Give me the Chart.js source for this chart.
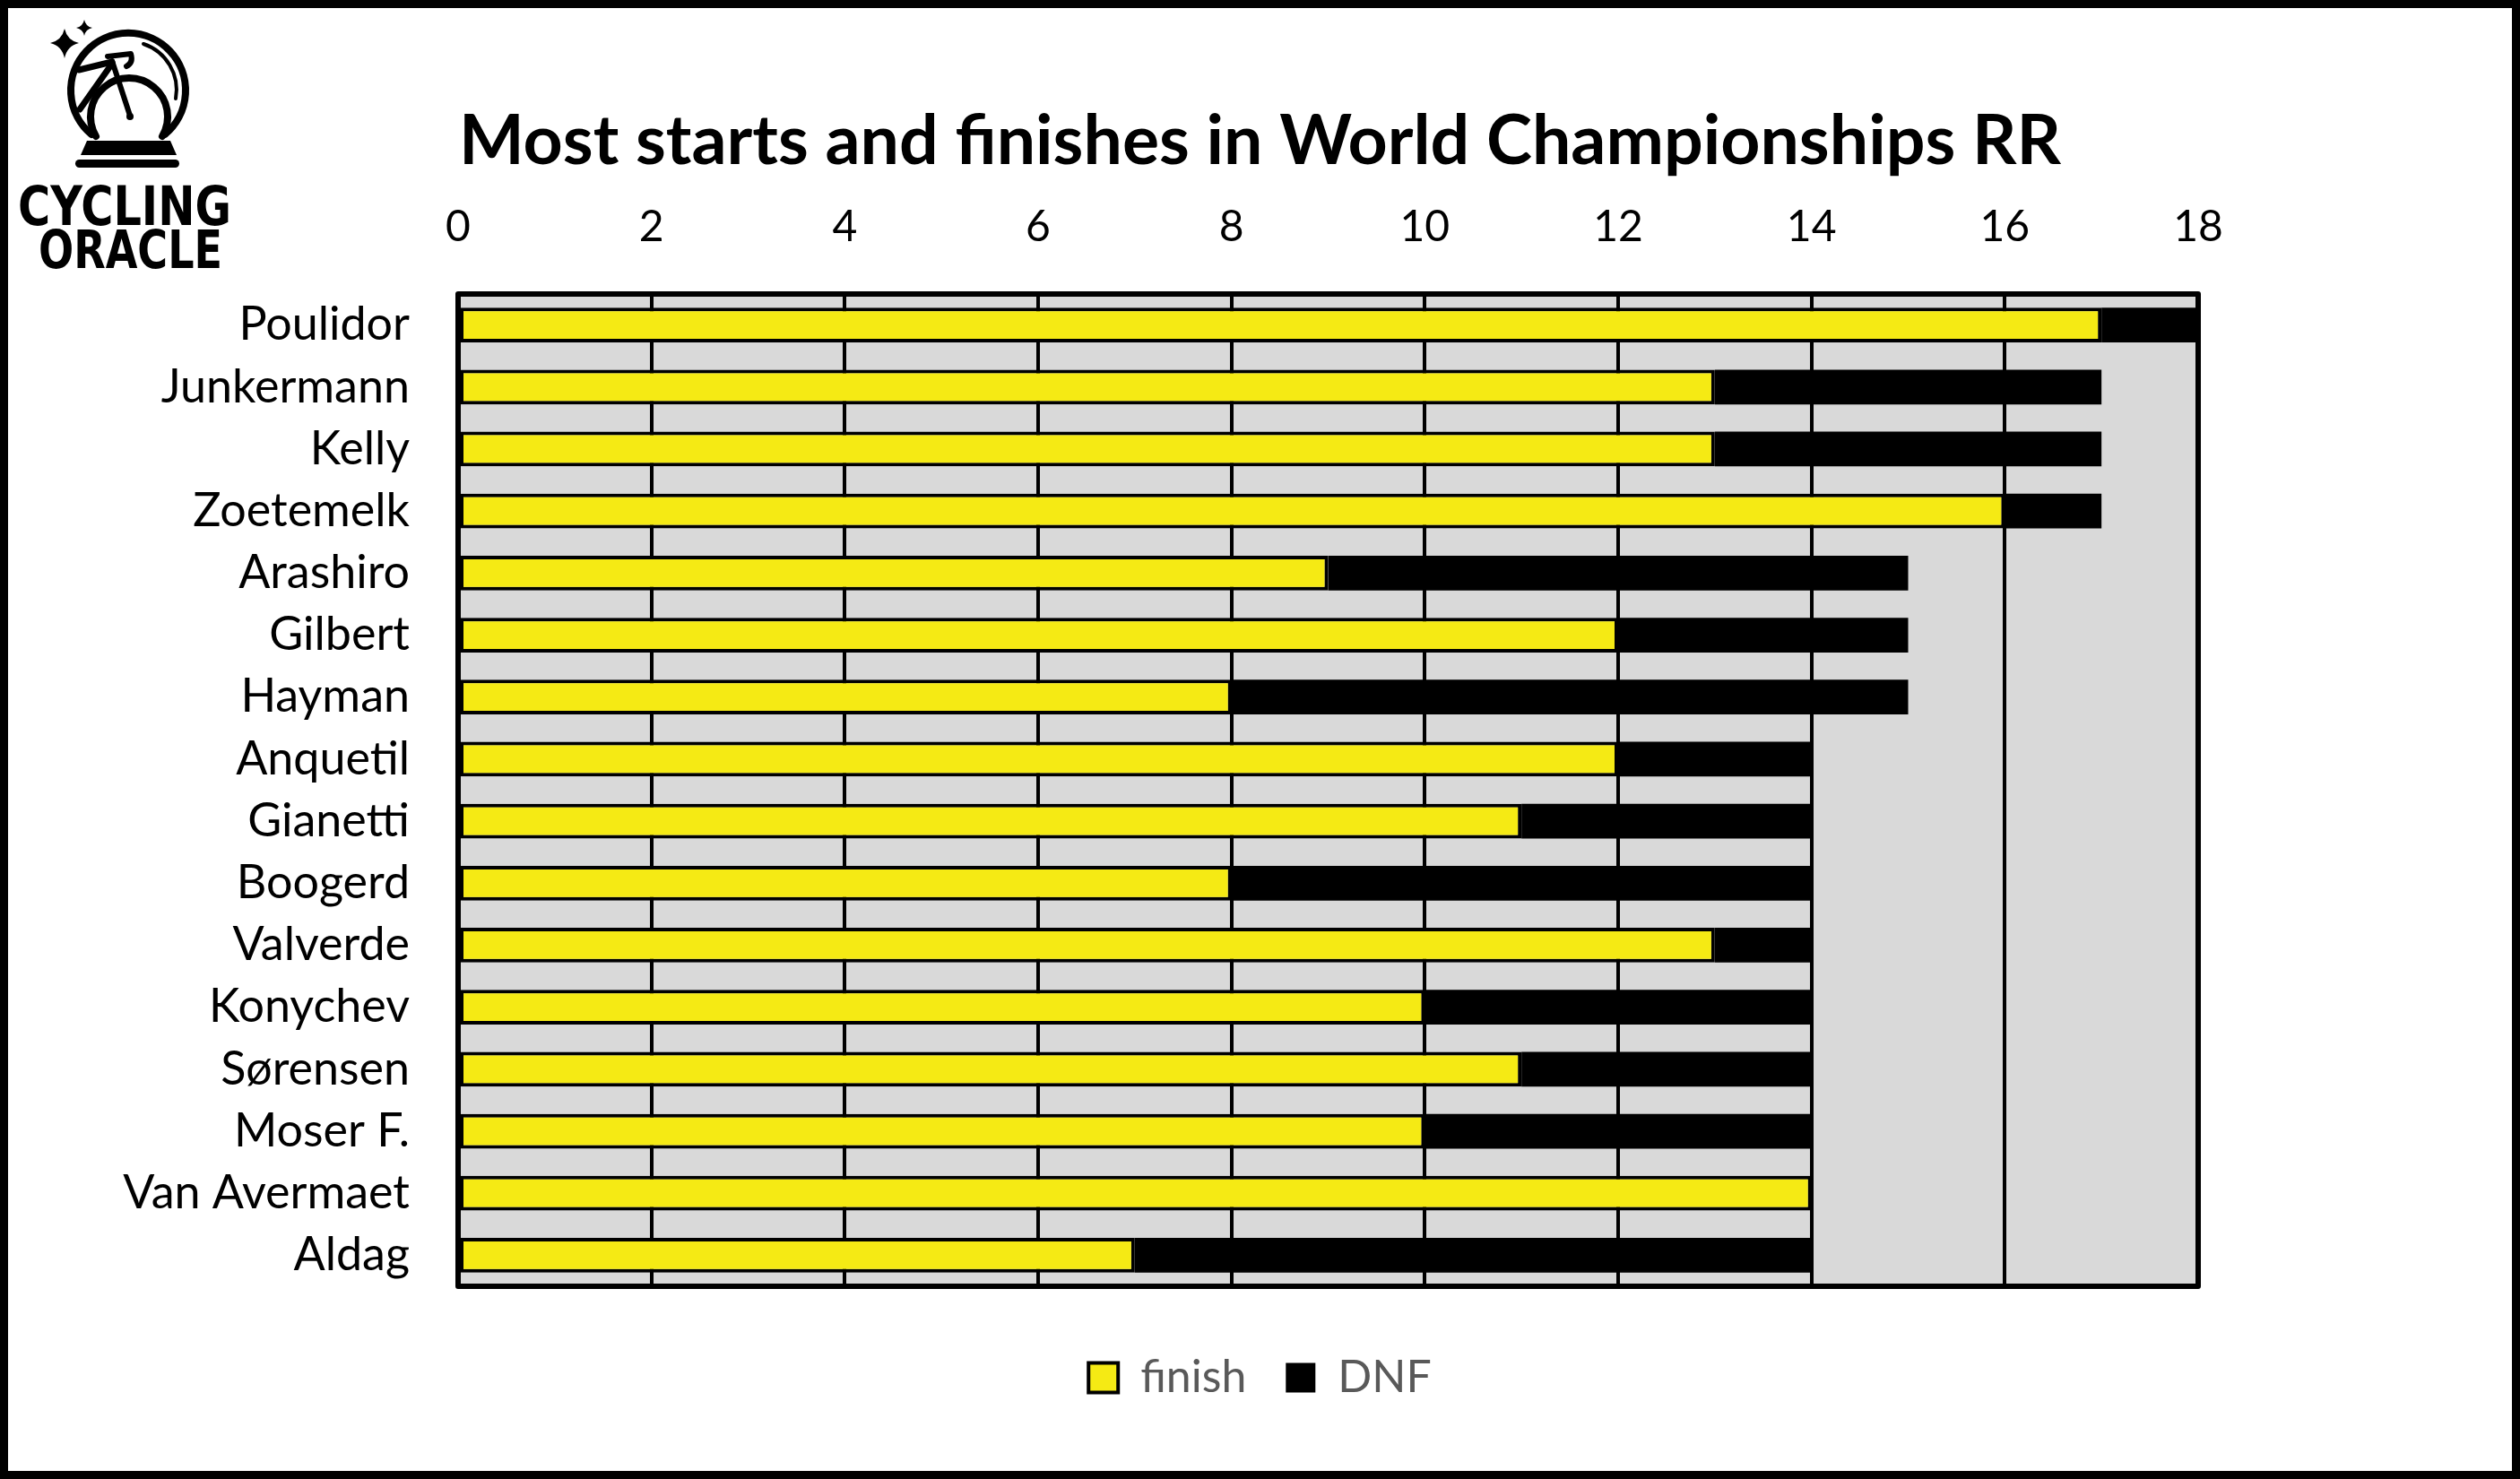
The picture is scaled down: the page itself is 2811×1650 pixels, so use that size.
<!DOCTYPE html>
<html lang="en">
<head>
  <meta charset="UTF-8">
  <title>Most starts and finishes in World Championships RR</title>
  <script src="https://cdn.jsdelivr.net/npm/chart.js"></script>
  <style>
    html, body {
      margin: 0;
      padding: 0;
      background: #fff;
      overflow: hidden;
    }

    #wrap {
      position: relative;
      width: 2811px;
      height: 1650px;
    }

    canvas, #logo {
      position: absolute;
      left: 0;
      top: 0;
    }

    #frame {
      position: absolute;
      left: 0;
      top: 0;
      width: 2811px;
      height: 1650px;
      box-sizing: border-box;
      border: 9px solid #000;
      pointer-events: none;
    }
  </style>
</head>
<body>

  <div id="wrap">
    <canvas id="grafico" width="2811" height="1650"></canvas>

    <svg id="logo" width="300" height="320" viewBox="0 0 300 320">
      <!-- estrellas -->
      <path d="M72 32 Q75 45 88 48 Q75 51 72 65 Q69 51 56 48 Q69 45 72 32 Z" fill="#000"/>
      <path d="M94 22 Q95.5 29.5 103 31 Q95.5 32.5 94 40 Q92.5 32.5 85 31 Q92.5 29.5 94 22 Z" fill="#000"/>
      <g fill="none" stroke="#000" stroke-linecap="round" stroke-linejoin="round">
        <!-- bola de cristal -->
        <path d="M102 150 A64 64 0 1 1 184 150" stroke-width="8"/>
        <path d="M160 49 A54 54 0 0 1 196 110" stroke-width="4"/>
        <!-- rueda -->
        <path d="M107 152 A43 43 0 1 1 181 152" stroke-width="8"/>
        <!-- cuadro -->
        <path d="M88 78 L125 69" stroke-width="7"/>
        <path d="M125 71 L89 122" stroke-width="7"/>
        <path d="M125 68 L145 129" stroke-width="6"/>
        <path d="M120 63 L146 60 Q149 70 141 74" stroke-width="6"/>
      </g>
      <circle cx="145" cy="130" r="4" fill="#000"/>
      <!-- base -->
      <path d="M97 157 L190 157 L197 173 L90 173 Z" fill="#000"/>
      <rect x="84" y="178" width="116" height="9" rx="4.5" fill="#000"/>
      <text x="20" y="251" font-family="DejaVu Sans" font-weight="bold" font-size="60"
            textLength="238" lengthAdjust="spacingAndGlyphs">CYCLING</text>
      <text x="43" y="299" font-family="DejaVu Sans" font-weight="bold" font-size="58"
            textLength="205" lengthAdjust="spacingAndGlyphs">ORACLE</text>
    </svg>

    <div id="frame"></div>
  </div>

  <script>
    const riders = ['Poulidor', 'Junkermann', 'Kelly', 'Zoetemelk', 'Arashiro', 'Gilbert', 'Hayman',
      'Anquetil', 'Gianetti', 'Boogerd', 'Valverde', 'Konychev', 'Sørensen', 'Moser F.',
      'Van Avermaet', 'Aldag'];
    const finishes = [17, 13, 13, 16, 9, 12, 8, 12, 11, 8, 13, 10, 11, 10, 14, 7];
    const dnfs = [1, 4, 4, 1, 6, 3, 7, 2, 3, 6, 1, 4, 3, 4, 0, 7];
    const xTicks = [0, 2, 4, 6, 8, 10, 12, 14, 16, 18];

    const ctx = document.getElementById('grafico').getContext('2d');

    // fondo gris del area y marco negro encima de las barras
    const fondoPlot = {
      id: 'fondoPlot',
      beforeDraw(chart) {
        const { ctx, chartArea: a } = chart;
        ctx.save();
        ctx.fillStyle = '#d9d9d9';
        ctx.fillRect(a.left, a.top, a.right - a.left, a.bottom - a.top);
        ctx.restore();
      },
      afterDatasetsDraw(chart) {
        const { ctx, chartArea: a } = chart;
        ctx.save();
        ctx.strokeStyle = '#000';
        ctx.lineWidth = 6;
        ctx.lineJoin = 'round';
        ctx.strokeRect(a.left, a.top, a.right - a.left, a.bottom - a.top);
        ctx.restore();
      }
    };

    new Chart(ctx, {
      type: 'bar',
      data: {
        labels: riders,
        datasets: [
          {
            label: 'finish',
            data: finishes,
            backgroundColor: '#f5ea14',
            borderColor: '#000',
            borderWidth: 4,
            borderSkipped: false,
            xAxisID: 'x',
            yAxisID: 'y'
          },
          {
            label: 'DNF',
            data: dnfs,
            backgroundColor: '#000',
            borderWidth: 0,
            xAxisID: 'x',
            yAxisID: 'y'
          }
        ]
      },
      options: {
        indexAxis: 'y',
        responsive: false,
        animation: false,
        devicePixelRatio: 1,
        layout: { padding: { top: 0, left: 0, right: 0, bottom: 78 } },
        datasets: { bar: { barPercentage: 0.56, categoryPercentage: 1 } },
        scales: {
          x: {
            type: 'linear',
            position: 'top',
            stacked: true,
            min: 0,
            max: 18,
            afterBuildTicks: s => { s.ticks = xTicks.map(v => ({ value: v })); },
            afterFit: s => { s.height = 123.8; },
            ticks: { padding: 46, color: '#000', font: { family: 'Lato', size: 48 } },
            grid: { color: '#000', lineWidth: 4, drawTicks: false },
            border: { display: false }
          },
          xBajo: {
            type: 'linear',
            position: 'bottom',
            ticks: { display: false },
            grid: { display: false, drawTicks: false },
            border: { display: false },
            afterFit: s => { s.height = 33; }
          },
          y: {
            stacked: true,
            position: 'left',
            afterFit: s => { s.width = 511; },
            ticks: { padding: 54, color: '#000', font: { family: 'Lato', size: 52 } },
            grid: { display: false, drawTicks: false },
            border: { display: false }
          },
          yDer: {
            type: 'category',
            position: 'right',
            ticks: { display: false },
            grid: { display: false, drawTicks: false },
            border: { display: false },
            afterFit: s => { s.width = 359; }
          }
        },
        plugins: {
          title: {
            display: true,
            text: 'Most starts and finishes in World Championships RR',
            color: '#000',
            font: { family: 'Lato', size: 77, weight: 'bold' },
            padding: { top: 111.8, bottom: 0 }
          },
          legend: {
            position: 'bottom',
            labels: {
              color: '#595959',
              font: { family: 'Lato', size: 50 },
              boxWidth: 33,
              boxHeight: 33,
              padding: 44
            }
          },
          tooltip: { enabled: false }
        }
      },
      plugins: [fondoPlot]
    });
  </script>

</body>
</html>
